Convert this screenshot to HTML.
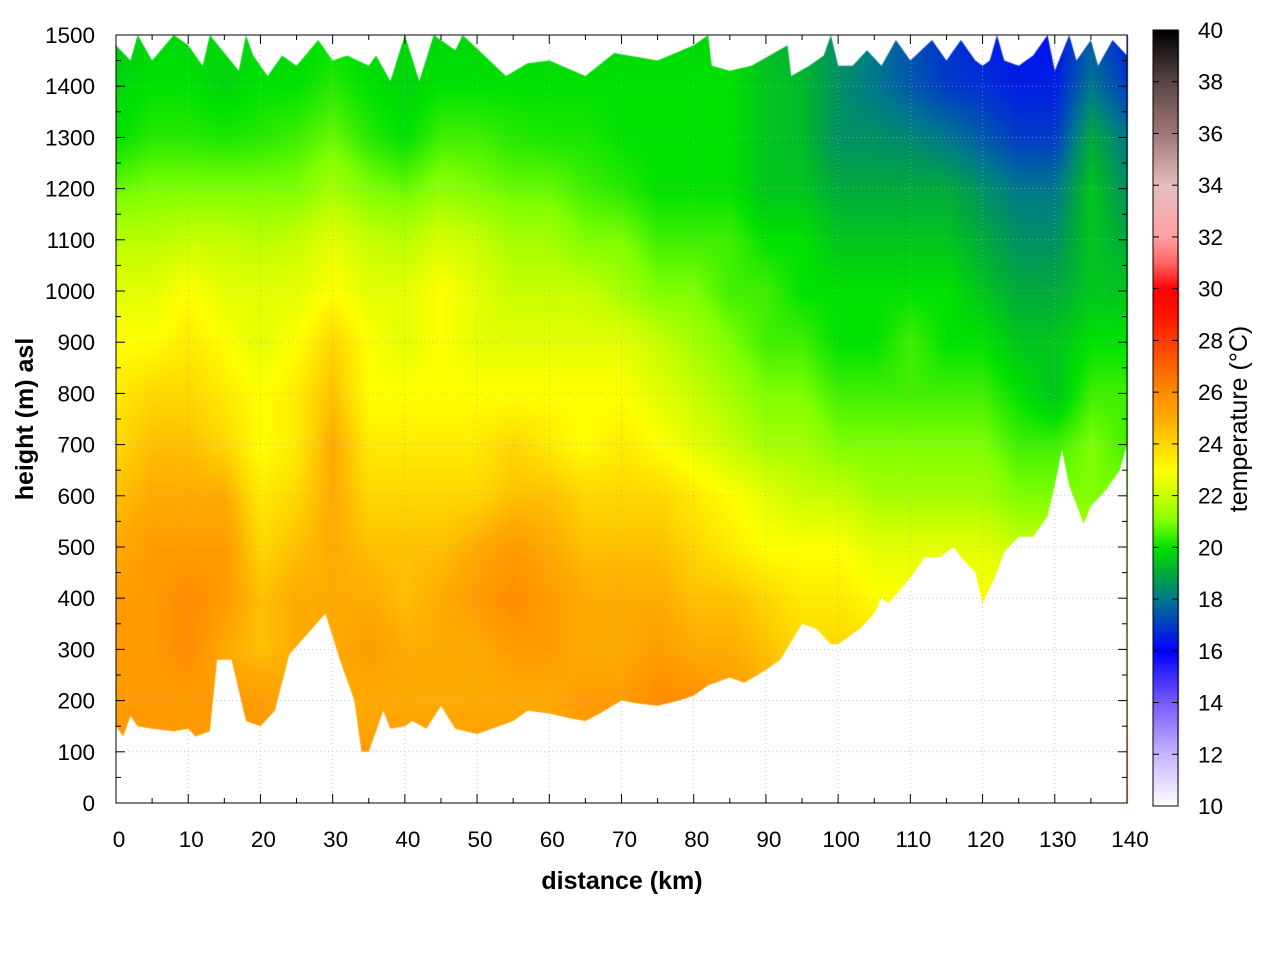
<!DOCTYPE html>
<html><head><meta charset="utf-8"><style>
body{margin:0;background:#fff;width:1280px;height:960px;overflow:hidden;font-family:"Liberation Sans",sans-serif}
#wrap{position:relative;width:1280px;height:960px}
canvas,svg{position:absolute;left:0;top:0}
</style></head><body>
<div id="wrap">
<canvas id="cv" width="1280" height="960"></canvas>
<svg id="sv" width="1280" height="960"></svg>
</div>
<script>
const distances=[0,5,10,15,20,25,30,35,40,45,50,55,60,65,70,75,80,85,90,95,100,105,110,115,120,125,130,135,140];
const heights=[0,100,200,300,400,500,600,700,800,900,1000,1100,1200,1300,1400,1500];
const row0=[25.5,25.5,25.5,25.5,25.5,25.5,25.5,25.5,25.5,25.5,25.5,25.5,25.5,25.5,25.5,25.5,25.5,25.5,25,25,25,25,25,25,25,25,25,25,25];
const row100=[25.5,25.5,25.5,25.5,25.5,25.5,25.5,25.5,25.5,25.5,25.5,25.5,25.5,25.5,25.5,25.5,25.5,25.5,25,25,25,25,25,25,25,25,25,25,25];
const row200=[25.5,25.5,25.5,25.5,25.5,25,25,25,25,25,25,25,25,25.5,25.5,26,26,25.5,25,24.5,24,24,24,24,24,24,24,24,24];
const row300=[25.5,25.5,26,25,24.5,25,25,25.5,25,25,25,25.5,25.5,25,25,25.5,25,25,24.5,24,24,24,23.5,23.5,23.5,23.5,23.5,23.5,23.5];
const row400=[25.5,25.5,26,25.5,24.5,25,25,25,24.5,25,25.5,26,25.5,25,25,25,24.5,24.5,24,23.5,23.5,23,23,23,23,23,23,23,23];
const row500=[25,25.5,25.5,25.5,24,24.5,25,24.5,24.5,24.5,25,25.5,25,24.5,24.5,24.5,24,23.5,23,23,23,22.5,22.5,22.5,22.5,22,22,22,22];
const row600=[24.5,25,25,25,23.5,24,25,24,24,24,24,24.5,24.5,24,24,24,23.5,23,22.5,22,22,21.5,21.5,21.5,21.5,21,21,21,21];
const row700=[24,24.5,24.5,24,23,23.5,25,23.5,23.5,23.5,23.5,24,23.5,23,23.5,23,22.5,22,21.5,21.5,21,21,21,21,21,20.5,20.5,21,20.5];
const row800=[23.5,24,24,23.5,23,23.5,24.5,23,23,23,23,23,23,23,23,22.5,22,21.5,21,21,20.5,20.5,20.5,20.5,20.5,20,19.5,20.5,20.5];
const row900=[23,23,23.5,23,22.5,23,24,23,22.5,23,22.5,22.5,22.5,22.5,22.5,22,21.5,21,20.5,20.5,20,20,20.5,20,20,19.5,19.5,20,20];
const row1000=[22.5,22.5,23,22.5,22.5,22.5,23,22.5,22.5,23,22.5,22,22,22,21.5,21,21,20.5,20.5,20,20,20,20,20,19.5,19,19,19.5,19.5];
const row1100=[21.8,21.8,22,22,21.8,22,22.5,22,21.8,22.3,22,21.5,21.5,21,21,20.5,20.5,20.5,20,20,19.5,19.5,19.5,19.5,19,18.5,18.5,19.5,19];
const row1200=[20.8,21,21,21,21,21,21.5,21,20.8,21.2,21,20.8,20.8,20.5,20.3,20,20,20,19.5,19.5,19,19,19,19,18.5,18,18,19.5,18.5];
const row1300=[20,20.3,20.3,20.2,20.3,20.5,20.8,20.3,20,20.5,20.5,20.3,20.2,20.2,20,20,20,20,19.5,19.3,18.5,18.5,18.3,18,17.5,17,17,19,18];
const row1400=[19.8,20,20,19.8,20,20,20.3,20,19.8,20,20,20,20,20,20,20,20,20,19.5,19.3,18.5,18,17.5,17,16.8,16.5,16.5,18,17];
const row1500=[19.5,19.8,19.8,19.8,19.8,19.8,20,19.8,19.8,19.8,19.8,19.8,19.8,19.8,19.8,19.8,19.8,19.8,19.3,19,18.5,18,17.3,16.8,16.5,16.3,16.3,17.5,16.5];
const temps=[row0,row100,row200,row300,row400,row500,row600,row700,row800,row900,row1000,row1100,row1200,row1300,row1400,row1500];
const groundKm=[0,1,2,3,5,8,10,11,13,14,16,18,20,22,24,29,31,33,34,35,37,38,40,41,43,45,47,50,53,55,57,60,63,65,67,70,72,75,78,80,82,85,87,90,92,95,97,99,100,102,103,105,106,107,110,112,114,116,117,119,120,121,122,123,125,127,129,130,131,132,134,135,137,139,140];
const groundH=[150,130,170,150,145,140,145,130,140,280,280,160,150,180,290,370,280,200,100,100,180,145,150,160,145,190,145,135,150,160,180,175,165,160,175,200,195,190,200,210,230,245,235,260,280,350,340,310,310,330,340,370,400,390,440,480,480,500,480,450,390,420,450,490,520,520,560,620,690,620,545,580,610,650,700];
const topKm=[0,2,3,5,8,10,12,13,17,18,19,21,23,25,28,30,32,35,36,38,40,42,44,47,48,54,57,60,65,69,75,80,82,82.5,85,88,93,93.5,96,98,99,100,102,104,106,108,110,113,115,117,119,120,121,122,123,125,127,129,130,132,133,135,136,138,140];
const topH=[1480,1450,1500,1450,1500,1480,1440,1500,1430,1500,1460,1420,1460,1440,1490,1450,1460,1440,1460,1410,1500,1410,1500,1470,1500,1420,1445,1450,1420,1465,1450,1480,1500,1440,1430,1440,1480,1420,1440,1460,1500,1440,1440,1470,1440,1490,1450,1490,1450,1490,1450,1440,1450,1500,1450,1440,1460,1500,1430,1500,1450,1490,1440,1490,1460];
const cbTemps=[10,12,14,16,17,18,19,20,21,22,23,24,25,26,27,28,29,30,31,32,34,36,38,40];
const cbR=[255,200,120,0,0,0,0,0,128,200,255,255,255,255,255,255,255,255,255,255,230,160,90,0];
const cbG=[255,180,90,0,60,120,170,225,255,255,255,215,170,140,100,60,20,0,100,160,190,120,70,0];
const cbB=[255,255,255,255,200,140,60,0,0,0,0,0,0,0,0,0,0,0,100,160,190,120,70,0];
const xTicks=[0,10,20,30,40,50,60,70,80,90,100,110,120,130,140];
const yTicks=[0,100,200,300,400,500,600,700,800,900,1000,1100,1200,1300,1400,1500];
const cTicks=[10,12,14,16,18,20,22,24,26,28,30,32,34,36,38,40];

const X0=116,X1=1127,Y0=803,Y1=35;
const sx=d=>X0+(d-0)/140*(X1-X0);
const sy=h=>Y0-(h/1500)*(Y0-Y1);
const CY0=806,CY1=30,CX0=1153,CX1=1178;
const cy=t=>CY0-(t-10)/30*(CY0-CY1);
function color(t){
  let i=0;while(i<cbTemps.length-2&&t>cbTemps[i+1])i++;
  let f=(t-cbTemps[i])/(cbTemps[i+1]-cbTemps[i]);f=Math.max(0,Math.min(1,f));
  return [cbR[i]+(cbR[i+1]-cbR[i])*f,cbG[i]+(cbG[i+1]-cbG[i])*f,cbB[i]+(cbB[i+1]-cbB[i])*f];
}
function tempAt(d,h){
  let fi=d/5, fj=h/100;
  let i=Math.min(Math.floor(fi),distances.length-2), j=Math.min(Math.floor(fj),heights.length-2);
  let a=fi-i,b=fj-j;
  return temps[j][i]*(1-a)*(1-b)+temps[j][i+1]*a*(1-b)+temps[j+1][i]*(1-a)*b+temps[j+1][i+1]*a*b;
}
const cv=document.getElementById('cv'),ctx=cv.getContext('2d');
const img=ctx.createImageData(1280,960);
for(let y=Y1;y<=Y0;y++)for(let x=X0;x<=X1;x++){
  const d=(x-X0)/(X1-X0)*140,h=(Y0-y)/(Y0-Y1)*1500;
  const c=color(tempAt(d,h));const k=(y*1280+x)*4;
  img.data[k]=c[0];img.data[k+1]=c[1];img.data[k+2]=c[2];img.data[k+3]=255;
}
for(let y=CY1;y<=CY0;y++){const c=color(10+(CY0-y)/(CY0-CY1)*30);
  for(let x=CX0;x<=CX1;x++){const k=(y*1280+x)*4;img.data[k]=c[0];img.data[k+1]=c[1];img.data[k+2]=c[2];img.data[k+3]=255;}}
ctx.putImageData(img,0,0);
ctx.fillStyle='#fff';
ctx.beginPath();ctx.moveTo(X0,Y0+1);
groundKm.forEach((k,i)=>ctx.lineTo(sx(k),sy(groundH[i])));
ctx.lineTo(X1,Y0+1);ctx.closePath();ctx.fill();
ctx.beginPath();ctx.moveTo(X0,Y1-1);
topKm.forEach((k,i)=>ctx.lineTo(sx(k),sy(topH[i])));
ctx.lineTo(X1,Y1-1);ctx.closePath();ctx.fill();

const NS='http://www.w3.org/2000/svg',sv=document.getElementById('sv');
function el(t,a,txt){const e=document.createElementNS(NS,t);for(const k in a)e.setAttribute(k,a[k]);if(txt!=null)e.textContent=txt;sv.appendChild(e);return e;}
xTicks.forEach(v=>{const e=el('line',{x1:sx(v),x2:sx(v),y1:Y1,y2:Y0,stroke:'#aaa','stroke-width':0.6,'stroke-dasharray':'1,3'});

});
yTicks.forEach(v=>{const e=el('line',{x1:X0,x2:X1,y1:sy(v),y2:sy(v),stroke:'#aaa','stroke-width':0.6,'stroke-dasharray':'1,3'});

});
let fr=el('rect',{x:X0,y:Y1,width:X1-X0,height:Y0-Y1,fill:'none',stroke:'#000','stroke-width':1});


for(let v=0;v<=140;v+=5){const L=v%10?5:9;
 el('line',{x1:sx(v),x2:sx(v),y1:Y0,y2:Y0-L,stroke:'#000'});el('line',{x1:sx(v),x2:sx(v),y1:Y1,y2:Y1+L,stroke:'#000'});}
for(let v=0;v<=1500;v+=50){const L=v%100?5:9;
 el('line',{x1:X0,x2:X0+L,y1:sy(v),y2:sy(v),stroke:'#000'});el('line',{x1:X1,x2:X1-L,y1:sy(v),y2:sy(v),stroke:'#000'});}
xTicks.forEach(v=>{const t=el('text',{x:sx(v)+3,y:847,'font-size':22.5,'text-anchor':'middle'},v);

});
yTicks.forEach(v=>{const t=el('text',{x:95,y:sy(v)+8,'font-size':22.5,'text-anchor':'end'},v);

});
let cf=el('rect',{x:CX0,y:CY1,width:CX1-CX0,height:CY0-CY1,fill:'none',stroke:'#000'});


for(let v=10;v<=40;v+=2){
 el('line',{x1:CX0,x2:CX0+6,y1:cy(v),y2:cy(v),stroke:'#000'});el('line',{x1:CX1,x2:CX1-6,y1:cy(v),y2:cy(v),stroke:'#000'});}
cTicks.forEach(v=>{const t=el('text',{x:1198,y:cy(v)+8,'font-size':22.5},v);

});
let xt=el('text',{x:622,y:889,'font-size':25,'font-weight':'bold','text-anchor':'middle'},'distance (km)');


let yt=el('text',{x:33,y:419,'font-size':25,'font-weight':'bold','text-anchor':'middle',transform:'rotate(-90 33 419)'},'height (m) asl');


let ct=el('text',{x:1247,y:419,'font-size':25,'text-anchor':'middle',transform:'rotate(-90 1247 419)'},'temperature (°C)');


</script>
</body></html>
